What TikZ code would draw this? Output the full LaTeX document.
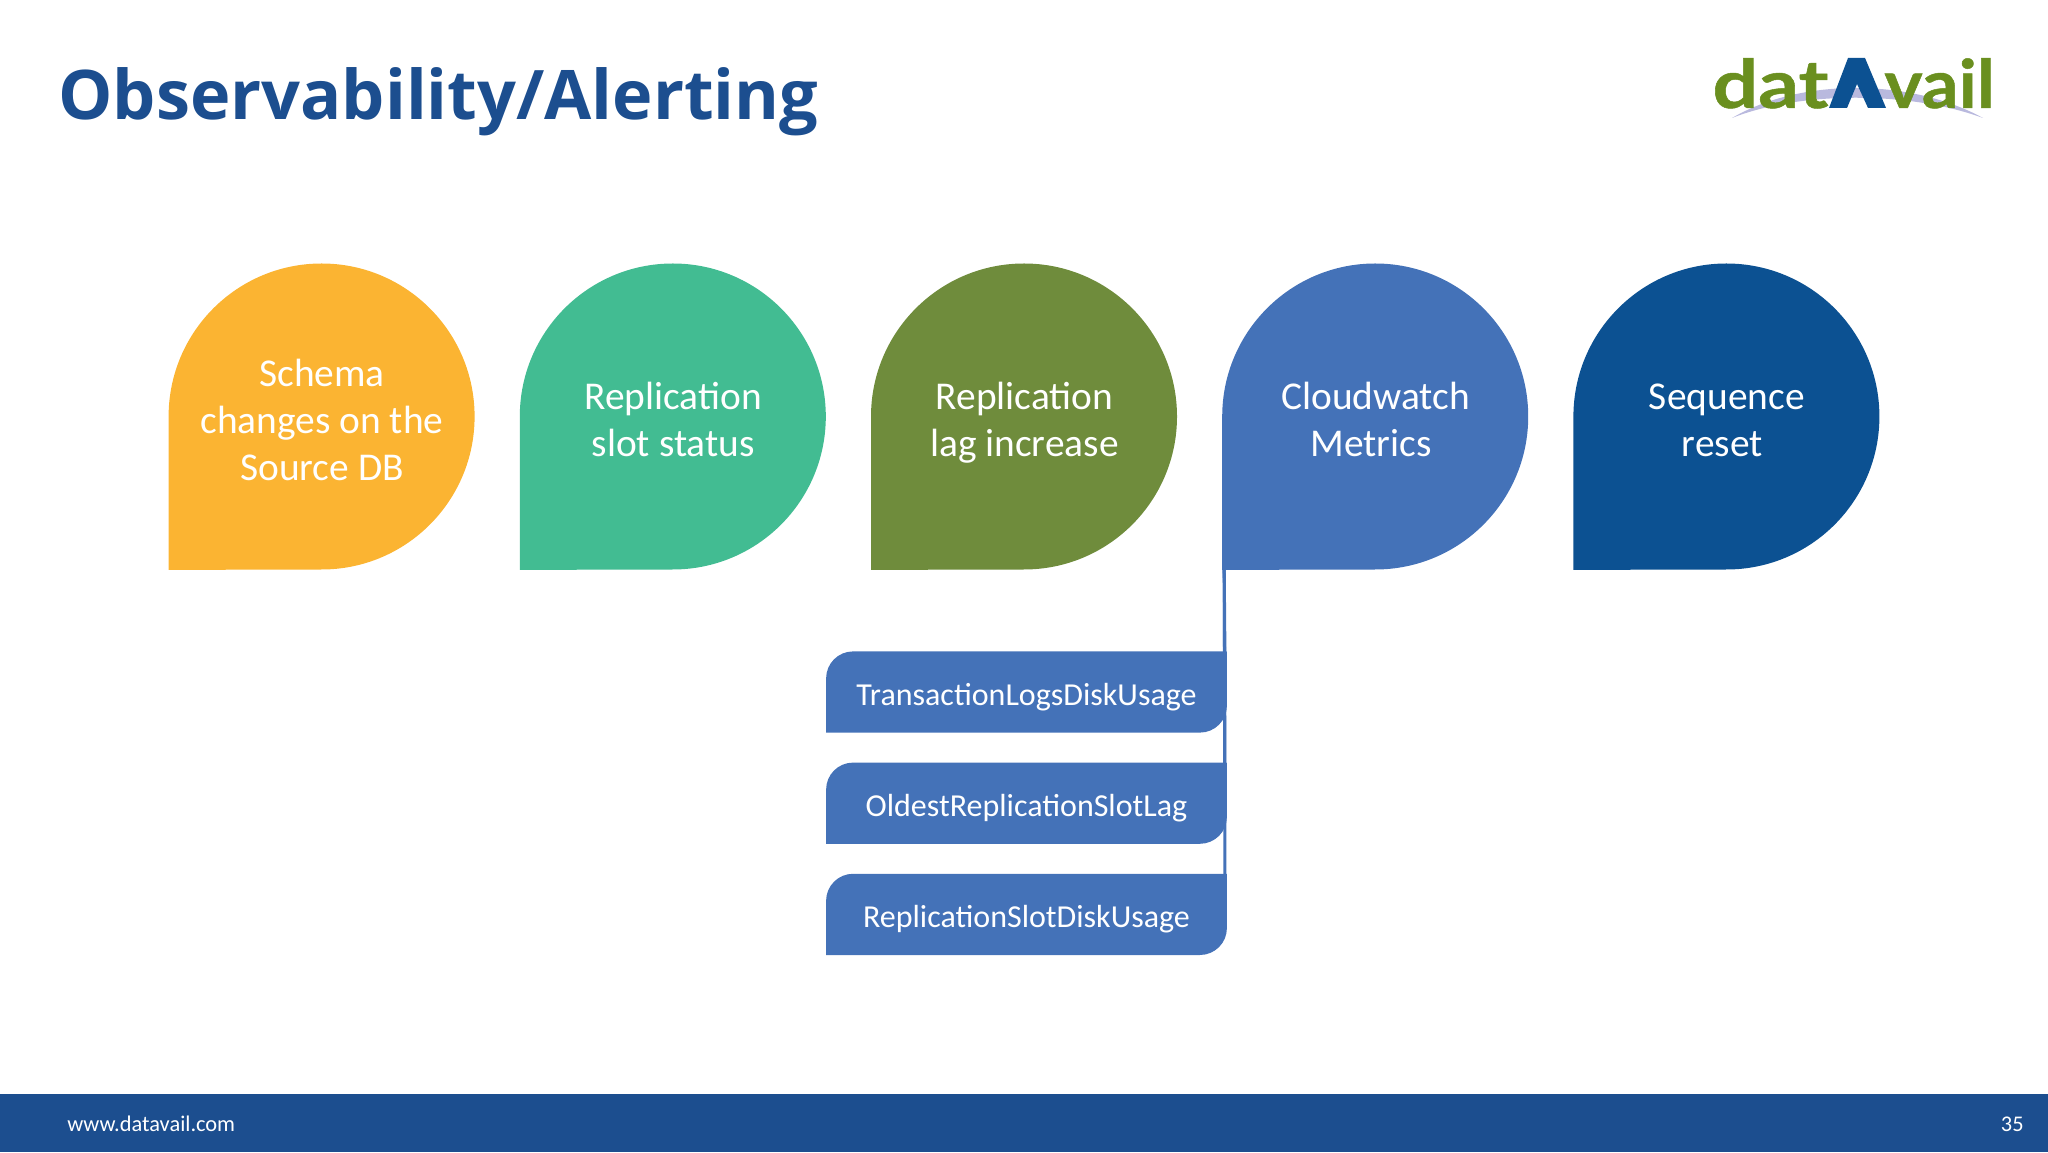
\documentclass[tikz,border=0pt]{standalone}
\usepackage{fontspec}
\setmainfont{Carlito}
\newfontfamily\titlefont{Open Sans}
\newfontfamily\logofont[BoldFeatures={FakeBold=0.7}]{Lato}
\usetikzlibrary{positioning,backgrounds}
\definecolor{dropyellow}{HTML}{FBB432}
\definecolor{dropteal}{HTML}{42BC92}
\definecolor{dropgreen}{HTML}{6F8C3C}
\definecolor{dropblue}{HTML}{4472B8}
\definecolor{dropnavy}{HTML}{0C5192}
\definecolor{barblue}{HTML}{1C4E8F}
\definecolor{logogreen}{HTML}{6A8F1F}
\definecolor{logoswoosh}{HTML}{B9B9DE}
% struts that keep every label on the same lines
\newcommand{\droptop}{\rule{0pt}{24pt}}
\newcommand{\dropend}{\rule[-7.1pt]{0pt}{0pt}}
\newcommand{\metrictop}{\rule{0pt}{16.2pt}}
\tikzset{
    %Define style for drops
    drop/.style={
           rectangle,
           inner sep=0pt,
           minimum size=153pt,
           align=center,
           text=white,
           font=\fontsize{19.7}{23.6}\selectfont},
    %Define style for metric boxes
    metric/.style={
           rectangle,
           inner sep=0pt,
           minimum width=200pt,
           minimum height=40.2pt,
           text=white,
           font=\fontsize{16}{19}\selectfont},
    % Define connector style
    link/.style={
           draw=dropblue,
           line width=1.5pt},
    logotext/.style={
           inner sep=0pt,
           anchor=base west,
           transform shape,
           text=logogreen,
           font=\logofont\bfseries\fontsize{33.5}{35}\selectfont}
}

\begin{document}
\begin{tikzpicture}[x=0.5pt,y=0.5pt]
 \useasboundingbox (0,0) rectangle (2048,1152);
 %footer and title
    \fill[barblue] (0,0) rectangle (2048,58);
    \node[inner sep=0pt,anchor=base west,text=barblue,font=\titlefont\bfseries\fontsize{34.2}{35}\selectfont] (title) at (58,1032) {Observability/Alerting};
    \node[inner sep=0pt,anchor=west,text=white,font=\fontsize{11.2}{14}\selectfont] (web) at (67,28) {www.datavail.com};
    \node[inner sep=0pt,anchor=east,text=white,font=\fontsize{11.2}{14}\selectfont] (page) at (2024,28) {35};
 %logo
    \fill[logoswoosh] (1732,1034) .. controls (1800,1074) and (1910,1074) .. (1983,1034) .. controls (1910,1061) and (1800,1061) .. (1732,1034);
    \node[logotext,xscale=1.2] (dat) at (1712,1044) {dat};
    \node[logotext,xscale=1.08] (vail) at (1884,1044) {vail};
    \fill[dropnavy] (1829,1044) -- (1848,1094) -- (1865,1094) -- (1886,1044) -- (1868,1044) -- (1857,1068) -- (1847,1044) -- cycle;
 %drops
    \node[drop] (schema) at (322,735.5) {\droptop Schema\\changes on the\\Source DB\dropend};
    \node[drop,right=22.2pt of schema] (slot) {\droptop Replication\\slot status\dropend};
    \node[drop,right=22.2pt of slot] (lag) {\droptop Replication\\lag increase\dropend};
    \node[drop,right=22.2pt of lag] (cloud) {\droptop Cloudwatch\\Metrics~\dropend};
    \node[drop,right=22.2pt of cloud] (seq) {\droptop Sequence\\reset~\dropend};
 %metrics
    \node[metric] (logs) at (1026.5,460) {\metrictop TransactionLogsDiskUsage};
    \node[metric,below=15pt of logs] (oldest) {\metrictop OldestReplicationSlotLag};
    \node[metric,below=15pt of oldest] (disk) {\metrictop ReplicationSlotDiskUsage};
 %backgrounds
    \begin{scope}[on background layer]
    \foreach \n/\c in {schema/dropyellow,slot/dropteal,lag/dropgreen,cloud/dropblue,seq/dropnavy}
      \fill[\c] (\n.south west) -- (\n.west) arc[start angle=180,end angle=-90,radius=153] -- cycle;
    \foreach \n in {logs,oldest,disk}
      \fill[dropblue] (\n.south west) -- ([yshift=-13.5pt]\n.north west) arc[start angle=180,end angle=90,radius=27]
        -- (\n.north east) -- ([yshift=13.5pt]\n.south east) arc[start angle=0,end angle=-90,radius=27] -- cycle;
    \end{scope}
 %edges
    \foreach \n in {logs,oldest,disk}
      \draw[link] ([xshift=1pt]cloud.south west) -- ([xshift=-1pt]\n.north east);
\end{tikzpicture}
\end{document}
